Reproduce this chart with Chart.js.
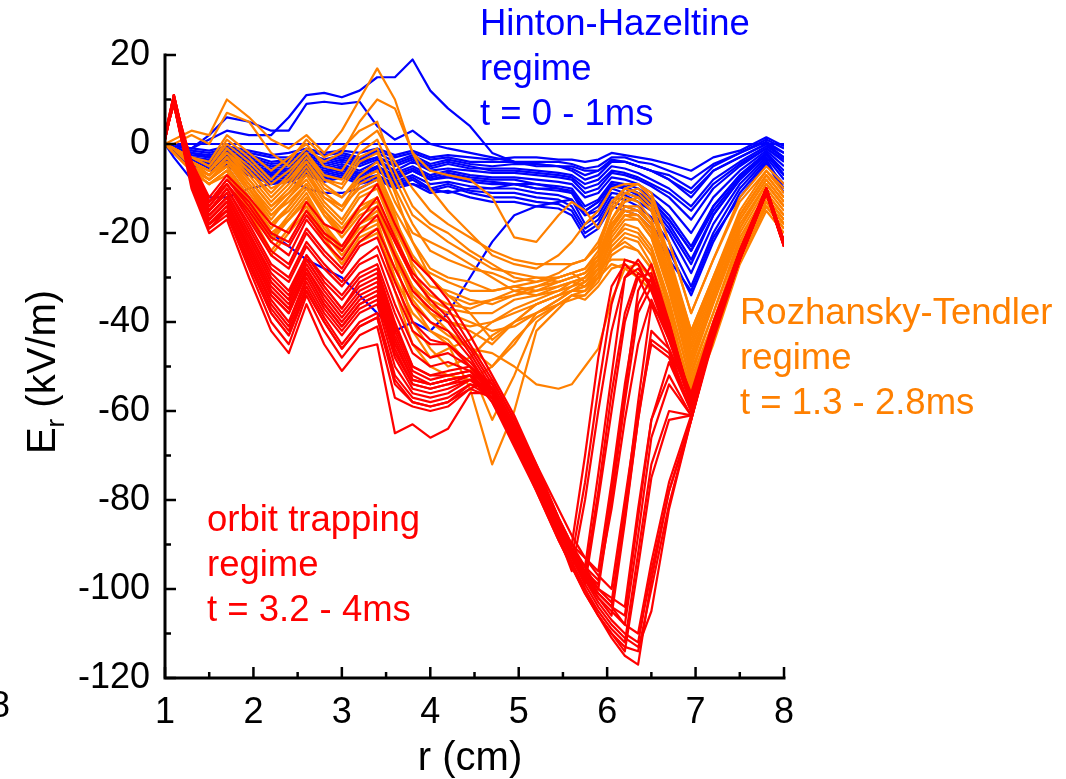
<!DOCTYPE html>
<html>
<head>
<meta charset="utf-8">
<script src="https://cdn.jsdelivr.net/npm/chart.js@4.4.1/dist/chart.umd.min.js"></script>
<style>
  html, body { margin: 0; padding: 0; background: #fff; }
  canvas { display: block; }
</style>
</head>
<body>
<canvas id="erChart" width="1066" height="779"></canvas>
<script>
// radial positions (cm) shared by every profile
const radius = [1.0, 1.1, 1.3, 1.5, 1.7, 1.95, 2.2, 2.4, 2.6, 2.8, 3.0, 3.2, 3.4, 3.6, 3.8, 4.0, 4.2, 4.45, 4.7, 4.95, 5.2, 5.45, 5.6, 5.75, 5.9, 6.05, 6.2, 6.35, 6.5, 6.7, 6.95, 7.2, 7.5, 7.8, 8.0];

const xTicks = [1, 2, 3, 4, 5, 6, 7, 8];
const yTicks = [20, 0, -20, -40, -60, -80, -100, -120];

// Er profiles, t = 0 - 1ms (Hinton-Hazeltine)
const hintonProfiles = [
  [0,0,0,0,0,0,0,0,0,0, 0,0,0,0,0,0,0,0,0,0, 0,0,0,0,0,0,0,0,0,0, 0,0,0,0,0],
  [0,-0.5,-1,-1.5,-0.5,-1.5,-2.5,-2,-1,-2, -1.5,-2,-1,-2.5,-1.5,-3,-2.5,-3,-3.5,-3, -3,-3.5,-3.5,-4,-3.5,-2,-2.5,-3,-3.5,-4.5, -6,-3,-1.5,1.5,-0.5],
  [0,-1,-1.5,-2,-1,-2,-3,-3,-1.5,-2.5, -2,-3,-1.5,-3,-2,-3.5,-3,-4,-4,-4, -4,-4,-4.5,-5.5,-5,-3,-3,-4,-4.5,-6, -8,-4.5,-2,1,-1],
  [0,-1,-2,-2.5,-1.5,-2.5,-4,-3.5,-2,-3.5, -2.5,-3.5,-2,-4,-2.5,-4.5,-3.5,-4.5,-5,-4.5, -4.5,-5,-5.5,-7,-6,-3.5,-4,-5,-6,-8, -11,-6,-3,0,-2],
  [0,-1,-2,-3,-2,-3,-4.5,-4,-2.5,-4, -3,-4,-3,-4.5,-3,-5,-4,-5,-6,-6, -6.5,-7,-7.5,-10,-9,-6,-6.5,-7.5,-9,-11, -15,-9,-4.5,-1,-3.5],
  [0,-1,-2.5,-3,-2,-3.5,-5,-4.5,-3,-4.5, -3.5,-4.5,-3,-5,-3.5,-5.5,-4.5,-5.5,-5.5,-5.5, -6,-6.5,-7,-9,-8,-5,-5.5,-6.5,-8,-10, -14,-8,-4,-0.5,-3],
  [0,-1.5,-3,-3.5,-2.5,-4,-5.5,-5,-3.5,-5, -4,-5,-3.5,-6,-4,-6,-5.5,-6,-6.5,-6.5, -7,-7.5,-8,-11,-10,-6.5,-7,-8,-9.5,-12, -17,-10,-5,-1,-4],
  [0,-1.5,-3,-4,-3,-4.5,-6,-5.5,-4,-5.5, -4.5,-6,-4,-6.5,-5,-7,-6,-7,-7.5,-7.5, -8,-8.5,-9,-12,-11,-7.5,-8,-9,-11,-14, -20,-12,-6,-1.5,-5],
  [0,-1.5,-3.5,-4,-3,-5,-6.5,-6,-4.5,-6, -5,-6.5,-5,-7,-5.5,-7.5,-6.5,-7.5,-8,-8, -9,-9.5,-10,-14,-12.5,-8.5,-9,-10,-12,-16, -23,-14,-7,-2,-6],
  [0,-1.5,-3.5,-4.5,-3.5,-5,-6.5,-6,-5,-6.5, -5,-7,-5,-7.5,-6,-8,-7,-8,-8.5,-9, -10,-10,-10.5,-15,-13,-9,-9.5,-11,-12.5,-17, -24,-15,-7.5,-2,-7],
  [0,-2,-4,-4.5,-3.5,-5.5,-7,-6.5,-5,-6.5, -5.5,-7,-5.5,-8,-6,-8,-7.5,-8.5,-9,-9, -10,-10.5,-11,-16,-14,-9.5,-10,-11.5,-13.5,-18, -26,-16,-8,-2.5,-7],
  [0,-2,-4,-5,-4,-6,-7.5,-7,-5.5,-7, -6,-7.5,-6,-8.5,-7,-9,-8.5,-9.5,-10,-10, -11,-11.5,-12.5,-18,-16,-11,-11.5,-13,-15,-20, -29,-18,-9,-3,-8],
  [0,-2,-4.5,-5,-4.5,-6.5,-8,-7.5,-6,-7.5, -6.5,-8,-7,-9,-7.5,-10,-9,-10.5,-11,-11, -12,-12.5,-14,-19,-17,-12,-12.5,-14,-16.5,-22, -32,-20,-10,-3.5,-10],
  [0,-2,-4.5,-5.5,-5,-7,-9,-8.5,-7,-8.5, -7.5,-9,-8,-10,-9,-11,-10.5,-12,-13,-13, -14,-14.5,-16,-21,-19,-14,-15,-16,-19,-26, -33,-21,-12,-4.5,-9],
  [0,-2,-5,-5.5,-5,-7,-8.5,-8,-6.5,-8, -7,-8.5,-7.5,-9.5,-8,-10.5,-9.5,-11,-12,-12, -13,-13.5,-15,-20,-18,-13,-14,-15,-18,-24, -34,-22,-11,-4,-11],
  [0,0,-1,1,3,2,2,6,11,11.5, 10.5,12,15,15,19,12,8,4,-2,-4, -5,-5,-6,-8,-7,-4,-4,-5,-6,-8, -12,-6,-3,0,-3],
  [0,-0.5,-1,2,6,5,3,3,9,9.5, 9,9.5,4,1,3,0,-1,-2,-3,-4, -4.5,-5,-5,-6,-6,-4,-4,-5,-6,-7, -10,-5,-2,0.5,-2],
  [0,-3,-8,-12,-12,-10,-9,-8,-10,-11, -11,-10,-8,-9,-9,-10,-11,-10,-10,-9, -9,-10,-11,-15,-13,-9,-10,-11,-13,-17, -24,-14,-7,-2,-7],
  [0,-1,-4,-6,-5,-12,-20,-23,-26,-28, -30,-34,-38,-42,-40,-42,-38,-30,-22,-16, -14,-13,-12.5,-16,-15,-10,-11,-12,-14,-19, -27,-16,-8,-2,-7]
];

// Er profiles, t = 1.3 - 2.8ms (Rozhansky-Tendler)
const rozhanskyProfiles = [
  [0,1,3,2,10,6,1,-1,2,-2, 3,10,17,10,-2,-6,-7,-8,-12,-21, -22,-16,-13,-15,-19,-13,-10,-9,-11,-22, -38,-26,-13,-6,-10],
  [0,0,2,0,7,5,-2,-5,-1,-4, -2,5,10,8,-2,-10,-15,-20,-25,-27, -28,-25,-22,-18,-15,-10,-9,-9,-12,-22, -38,-26,-12,-5,-9],
  [0,-1,-3,-5,1,-3,-8,-4,1,-3, -1,3,5,-6,-14,-18,-20,-24,-27,-30, -31,-29,-27,-26,-22,-15,-11,-12,-15,-26, -42,-30,-16,-7,-12],
  [0,-1,-3,-4,2,-2,-6,-3,0,-5, -6,0,3,-4,-10,-15,-18,-21,-24,-26, -27,-27,-27,-26,-23,-14,-10,-11,-14,-26, -43,-31,-16,-7,-12],
  [0,-1,-4,-6,-2,-6,-12,-8,-3,-8, -10,-4,-2,-10,-18,-24,-26,-28,-29,-31, -30,-30,-29,-28,-25,-17,-12,-13,-17,-28, -45,-32,-17,-8,-13],
  [0,-1,-5,-7,-3,-8,-14,-10,-5,-11, -14,-8,-6,-15,-22,-28,-30,-31,-33,-32, -33,-31,-30,-29,-26,-18,-14,-14,-18,-30, -47,-34,-19,-9,-14],
  [0,-1,-4,-6,-1,-6,-11,-7,-2,-8, -9,-3,-1,-11,-22,-30,-34,-36,-35,-34, -33,-32,-31,-30,-26,-18,-15,-15,-18,-30, -49,-35,-19,-9,-14],
  [0,-1,-5,-8,-4,-10,-17,-12,-7,-13, -17,-11,-9,-19,-27,-32,-33,-35,-36,-34, -32,-30,-29,-31,-27,-19,-15,-16,-20,-32, -50,-36,-20,-10,-15],
  [0,-2,-6,-8,-5,-12,-19,-14,-9,-15, -19,-14,-12,-22,-30,-35,-37,-38,-38,-35, -34,-32,-31,-32,-28,-21,-17,-17,-21,-33, -52,-38,-22,-11,-16],
  [0,-1,-5,-8,-5,-13,-21,-16,-11,-18, -24,-19,-17,-30,-42,-48,-46,-44,-40,-37, -35,-33,-31,-30,-27,-20,-16,-17,-21,-33, -51,-38,-21,-11,-16],
  [0,-2,-6,-9,-6,-14,-22,-17,-12,-18, -23,-18,-16,-26,-34,-38,-40,-42,-45,-40, -36,-34,-33,-33,-29,-22,-18,-19,-23,-35, -54,-40,-23,-12,-17],
  [0,-1,-4,-7,-3,-10,-18,-14,-9,-15, -20,-15,-12,-26,-40,-46,-50,-48,-43,-40, -38,-35,-33,-31,-28,-22,-19,-20,-24,-36, -53,-40,-23,-12,-17],
  [0,-2,-6,-9,-7,-16,-25,-20,-15,-22, -27,-22,-20,-30,-38,-42,-44,-50,-62,-52, -40,-36,-34,-34,-30,-23,-20,-21,-25,-37, -56,-42,-25,-13,-18],
  [0,-1,-5,-8,-5,-12,-20,-17,-13,-20, -25,-20,-18,-28,-36,-42,-45,-55,-72,-60, -42,-37,-34,-33,-30,-24,-21,-22,-27,-38, -57,-44,-26,-14,-19],
  [0,-2,-6,-9,-6,-15,-24,-19,-14,-21, -27,-21,-19,-33,-45,-50,-52,-53,-50,-44, -39,-36,-35,-34,-31,-25,-23,-24,-28,-39, -55,-42,-25,-13,-18],
  [0,-1,-4,-7,-4,-10,-16,-13,-9,-16, -20,-15,-13,-24,-32,-38,-42,-46,-47,-50, -54,-55,-54,-50,-46,-35,-28,-27,-30,-40, -58,-45,-27,-15,-20],
  [0,-1,-4,-6,-2,-7,-13,-9,-4,-10, -12,-7,-4,-13,-20,-22,-24,-27,-30,-33, -34,-33,-32,-30,-27,-20,-16,-16,-19,-31, -48,-34,-18,-9,-14],
  [0,-1,-3,-5,0,-4,-9,-6,-2,-7, -8,-2,1,-8,-16,-19,-22,-25,-28,-29, -30,-31,-30,-29,-26,-19,-14,-15,-18,-29, -46,-33,-17,-8,-13],
  [0,-1,-4,-6,-1,-5,-10,-8,-4,-9, -12,-8,-6,-16,-28,-36,-40,-41,-40,-38, -36,-34,-33,-32,-29,-24,-22,-24,-28,-39, -55,-42,-24,-12,-17],
  [0,-1,-5,-7,-3,-9,-15,-11,-6,-12, -15,-9,-7,-17,-25,-30,-34,-38,-44,-40, -36,-34,-32,-31,-28,-26,-26,-27,-30,-40, -56,-43,-25,-13,-18],
  [0,-2,-6,-9,-6,-13,-21,-17,-12,-19, -24,-18,-15,-24,-32,-36,-38,-40,-42,-41, -38,-36,-34,-35,-32,-28,-27,-29,-32,-41, -56,-43,-25,-13,-18],
  [0,-1,-5,-8,-4,-11,-18,-15,-10,-16, -21,-16,-14,-25,-35,-40,-43,-46,-50,-45, -38,-35,-33,-32,-30,-27,-28,-30,-33,-42, -57,-44,-26,-14,-19],
  [0,-1,-4,-6,-2,-8,-14,-11,-7,-12, -14,-10,-8,-18,-26,-29,-31,-33,-33,-32, -31,-30,-29,-28,-24,-15,-11,-10,-13,-25, -42,-30,-15,-6,-11],
  [0,-1,-5,-7,-3,-9,-16,-12,-8,-14, -18,-12,-10,-20,-30,-34,-36,-37,-35,-33, -32,-31,-30,-29,-25,-17,-13,-12,-15,-27, -44,-31,-16,-7,-12]
];

// Er profiles, t = 3.2 - 4ms (orbit trapping)
const trappingProfiles = [
  [1,10,-4,-12,-7,-12,-18,-20,-13,-18, -20,-14,-9,-18,-26,-30,-35,-43,-52,-61, -72,-84,-93,-76,-55,-36,-26,-27,-33,-44, -56,-40,-24,-10,-22],
  [1,10,-4,-13,-8,-13,-20,-22,-15,-20, -23,-17,-12,-21,-29,-33,-37,-45,-53,-62, -73,-84,-90,-70,-48,-32,-27,-30,-36,-46, -57,-41,-24,-10,-22],
  [1,10,-5,-13,-8,-14,-21,-23,-16,-21, -24,-18,-14,-22,-30,-35,-39,-46,-54,-63, -74,-85,-92,-99,-80,-60,-40,-30,-29,-40, -58,-41,-25,-11,-23],
  [1,10,-5,-13,-9,-15,-22,-25,-17,-22, -26,-20,-16,-25,-33,-37,-40,-47,-55,-64, -74,-85,-90,-93,-96,-76,-54,-36,-30,-41, -57,-41,-24,-10,-22],
  [1,10,-5,-14,-9,-16,-24,-27,-19,-24, -28,-22,-19,-28,-36,-40,-42,-48,-56,-65, -76,-88,-96,-80,-60,-42,-30,-26,-30,-42, -57,-41,-25,-10,-22],
  [1,10,-5,-14,-9,-17,-25,-28,-20,-25, -29,-23,-21,-31,-40,-44,-45,-49,-55,-64, -74,-85,-91,-95,-74,-52,-30,-28,-32,-43, -57,-41,-25,-10,-22],
  [1,11,-6,-15,-10,-18,-27,-30,-22,-27, -31,-26,-23,-33,-42,-45,-45,-50,-54,-63, -73,-84,-90,-95,-100,-80,-58,-38,-32,-42, -58,-41,-24,-10,-22],
  [1,11,-6,-15,-10,-19,-28,-31,-23,-28, -32,-27,-25,-36,-45,-48,-47,-50,-55,-64, -74,-85,-91,-96,-101,-104,-108,-88,-66,-54, -61,-43,-25,-10,-22],
  [2,11,-6,-15,-11,-20,-29,-33,-25,-30, -34,-29,-27,-38,-47,-50,-49,-51,-55,-64, -74,-85,-92,-98,-102,-106,-85,-62,-42,-46, -60,-42,-25,-10,-22],
  [2,11,-6,-15,-11,-20,-30,-34,-25,-31, -35,-30,-28,-40,-50,-52,-51,-50,-56,-65, -75,-86,-92,-97,-78,-56,-38,-29,-31,-43, -57,-41,-25,-10,-22],
  [2,11,-7,-16,-12,-21,-31,-35,-26,-32, -37,-32,-30,-42,-51,-53,-52,-51,-58,-68, -78,-89,-95,-101,-106,-110,-114,-95,-75,-62, -61,-43,-26,-10,-22],
  [2,10,-7,-16,-12,-21,-31,-35,-26,-32, -37,-31,-29,-41,-50,-52,-52,-51,-56,-65, -75,-86,-92,-96,-99,-78,-56,-33,-27,-40, -58,-42,-25,-10,-22],
  [2,10,-7,-16,-12,-22,-32,-36,-27,-33, -38,-33,-31,-43,-52,-54,-53,-52,-57,-67, -77,-88,-94,-100,-106,-111,-115,-117,-98,-78, -62,-43,-26,-11,-22],
  [2,10,-7,-17,-13,-23,-33,-37,-28,-34, -39,-34,-32,-44,-53,-54,-53,-52,-57,-66, -76,-87,-92,-97,-100,-103,-82,-58,-36,-42, -59,-42,-25,-11,-22],
  [2,10,-8,-17,-13,-23,-33,-37,-28,-35, -40,-35,-33,-45,-53,-54,-53,-52,-58,-67, -77,-87,-91,-95,-98,-82,-62,-45,-35,-44, -59,-42,-25,-11,-23],
  [2,10,-8,-17,-13,-24,-34,-38,-29,-36, -41,-36,-34,-46,-54,-55,-54,-53,-57,-66, -76,-86,-92,-97,-101,-104,-84,-62,-44,-47, -60,-42,-25,-10,-22],
  [2,10,-8,-17,-13,-24,-34,-38,-29,-36, -41,-36,-34,-47,-54,-55,-54,-52,-56,-66, -76,-87,-93,-98,-101,-104,-106,-84,-62,-49, -60,-42,-25,-10,-22],
  [2,10,-8,-18,-14,-25,-35,-40,-30,-37, -42,-37,-35,-48,-55,-56,-55,-53,-56,-65, -75,-85,-91,-96,-100,-102,-104,-82,-62,-52, -61,-43,-26,-11,-23],
  [2,10,-8,-18,-14,-25,-36,-41,-31,-38, -43,-38,-36,-50,-56,-57,-56,-53,-55,-64, -74,-85,-91,-97,-102,-105,-108,-110,-94,-76, -61,-43,-25,-10,-22],
  [2,9,-9,-18,-15,-26,-37,-42,-32,-39, -45,-40,-38,-52,-57,-58,-57,-54,-55,-65, -75,-86,-92,-98,-103,-107,-110,-112,-96,-78, -62,-43,-25,-10,-22],
  [2,9,-9,-19,-15,-27,-38,-43,-33,-40, -46,-41,-39,-54,-58,-59,-58,-54,-57,-67, -77,-88,-94,-100,-105,-109,-112,-92,-72,-60, -61,-43,-26,-11,-23],
  [2,9,-9,-18,-15,-27,-38,-43,-33,-40, -46,-41,-39,-53,-58,-59,-58,-55,-57,-67, -78,-89,-95,-101,-106,-110,-113,-114,-100,-81, -62,-43,-26,-11,-23],
  [2,9,-9,-19,-16,-28,-40,-45,-34,-42, -48,-43,-41,-57,-59,-60,-59,-55,-53,-62, -72,-82,-88,-93,-97,-100,-80,-60,-45,-48, -60,-42,-25,-10,-22],
  [2,9,-10,-20,-17,-30,-42,-47,-36,-45, -51,-46,-45,-65,-63,-66,-64,-56,-56,-66, -76,-87,-93,-99,-104,-108,-111,-113,-105,-82, -62,-44,-26,-11,-23]
];

const BLUE = '#0000ff';
const ORANGE = '#ff8000';
const RED = '#ff0000';
const FONT = '"Liberation Sans", Arial, sans-serif';

// turn one group of profiles into line datasets
function makeDatasets(profiles, color, order) {
  return profiles.map(values => ({
    data: values.map((v, i) => ({ x: radius[i], y: v })),
    borderColor: color,
    borderWidth: 2.2,
    borderJoinStyle: 'round',
    pointRadius: 0,
    tension: 0,
    fill: false,
    order: order
  }));
}

function line(ctx, x1, y1, x2, y2) {
  ctx.beginPath();
  ctx.moveTo(x1, y1);
  ctx.lineTo(x2, y2);
  ctx.stroke();
}

// axes with inward ticks, axis titles and the regime notes
const framePlugin = {
  id: 'frame',
  afterDraw(chart) {
    const ctx = chart.ctx;
    const x = chart.scales.x;
    const y = chart.scales.y;
    const left = x.getPixelForValue(1);
    const right = x.getPixelForValue(8);
    const top = y.getPixelForValue(20);
    const bottom = y.getPixelForValue(-120);

    ctx.save();
    ctx.strokeStyle = '#000';
    ctx.lineCap = 'square';
    ctx.lineWidth = 3;
    ctx.beginPath();
    ctx.moveTo(left, top);
    ctx.lineTo(left, bottom);
    ctx.lineTo(right, bottom);
    ctx.stroke();

    ctx.lineWidth = 2.5;
    ctx.lineCap = 'butt';
    for (let v = -120; v <= 20; v += 10) {
      const py = y.getPixelForValue(v);
      line(ctx, left, py, left + (v % 20 === 0 ? 11 : 6), py);
    }
    for (let v = 1; v <= 8; v += 0.5) {
      const px = x.getPixelForValue(v);
      line(ctx, px, bottom, px, bottom - (v % 1 === 0 ? 11 : 6));
    }

    // x title
    ctx.fillStyle = '#000';
    ctx.textAlign = 'center';
    ctx.textBaseline = 'alphabetic';
    ctx.font = '40px ' + FONT;
    ctx.fillText('r (cm)', 470, 770);

    // y title with subscript
    ctx.save();
    ctx.translate(42, 372);
    ctx.rotate(-Math.PI / 2);
    ctx.textAlign = 'left';
    ctx.font = '40px ' + FONT;
    const wE = ctx.measureText('E').width;
    const rest = ' (kV/m)';
    const wRest = ctx.measureText(rest).width;
    ctx.font = '26px ' + FONT;
    const wSub = ctx.measureText('r').width;
    const start = -(wE + wSub + wRest) / 2;
    ctx.font = '40px ' + FONT;
    ctx.fillText('E', start, 13);
    ctx.font = '26px ' + FONT;
    ctx.fillText('r', start + wE, 22);
    ctx.font = '40px ' + FONT;
    ctx.fillText(rest, start + wE + wSub, 13);
    ctx.restore();

    // regime notes
    ctx.textAlign = 'left';
    ctx.font = '36.5px ' + FONT;
    const notes = [
      [BLUE, 480, ['Hinton-Hazeltine', 'regime', 't = 0 - 1ms'], 35],
      [ORANGE, 740, ['Rozhansky-Tendler', 'regime', 't = 1.3 - 2.8ms'], 324],
      [RED, 207, ['orbit trapping', 'regime', 't = 3.2 - 4ms'], 531]
    ];
    notes.forEach(([color, nx, rows, base]) => {
      ctx.fillStyle = color;
      rows.forEach((txt, k) => ctx.fillText(txt, nx, base + k * 45));
    });

    // edge of the neighbouring panel
    ctx.fillStyle = '#000';
    ctx.font = '36px ' + FONT;
    ctx.fillText('8', -10, 717);
    ctx.restore();
  }
};

const datasets = [
  ...makeDatasets(hintonProfiles, BLUE, 3),
  ...makeDatasets(rozhanskyProfiles, ORANGE, 2),
  ...makeDatasets(trappingProfiles, RED, 1)
];

new Chart(document.getElementById('erChart'), {
  type: 'line',
  data: { datasets: datasets },
  options: {
    responsive: false,
    animation: false,
    events: [],
    layout: { padding: { top: 55, right: 282, left: 0, bottom: 0 } },
    plugins: { legend: { display: false }, tooltip: { enabled: false } },
    scales: {
      x: {
        type: 'linear',
        min: 1,
        max: 8,
        afterFit(scale) { scale.height = 101; },
        afterBuildTicks(scale) { scale.ticks = xTicks.map(v => ({ value: v })); },
        grid: { display: false },
        border: { display: false },
        ticks: {
          autoSkip: false,
          maxRotation: 0,
          padding: 5,
          color: '#000',
          font: { family: FONT, size: 36 }
        }
      },
      y: {
        type: 'linear',
        min: -120,
        max: 20,
        afterFit(scale) { scale.width = 165; },
        afterBuildTicks(scale) { scale.ticks = yTicks.map(v => ({ value: v })); },
        grid: { display: false },
        border: { display: false },
        ticks: {
          autoSkip: false,
          padding: 7,
          color: '#000',
          font: { family: FONT, size: 36 }
        }
      }
    }
  },
  plugins: [framePlugin]
});
</script>
</body>
</html>
